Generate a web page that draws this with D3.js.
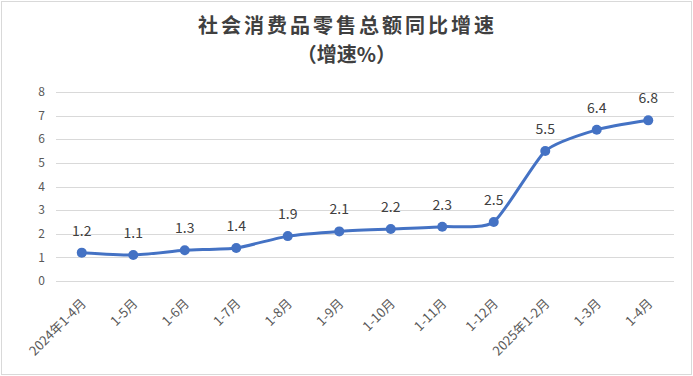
<!DOCTYPE html>
<html>
<head>
<meta charset="utf-8">
<script src="https://cdn.jsdelivr.net/npm/d3@7"></script>
<style>
  body { margin: 0; background: #fff; }
  svg { display: block; font-family: "Noto Sans CJK SC", "Noto Sans", sans-serif; }
</style>
</head>
<body>
<div id="chart"></div>
<script>
// periods and year-on-year growth (%)
const categories = ['2024年1-4月', '1-5月', '1-6月', '1-7月', '1-8月', '1-9月',
  '1-10月', '1-11月', '1-12月', '2025年1-2月', '1-3月', '1-4月']
const growth = [1.2, 1.1, 1.3, 1.4, 1.9, 2.1, 2.2, 2.3, 2.5, 5.5, 6.4, 6.8]
const yTicks = [0, 1, 2, 3, 4, 5, 6, 7, 8]

const width = 693
const height = 376
const margin = {top: 92, right: 19, bottom: 95, left: 56}

const svg = d3.select('#chart')
  .append('svg')
  .attr('width', width)
  .attr('height', height)

// outer frame
svg.append('rect')
  .attr('x', 1.5).attr('y', 1.5)
  .attr('width', width - 3).attr('height', height - 3)
  .attr('fill', '#fff')
  .attr('stroke', '#d9d9d9')

// title
svg.append('text')
  .attr('x', width / 2 + 1).attr('y', 33)
  .attr('text-anchor', 'middle')
  .attr('font-size', 20)
  .attr('font-weight', 'bold')
  .attr('letter-spacing', 3)
  .attr('fill', '#404040')
  .text('社会消费品零售总额同比增速')
svg.append('text')
  .attr('x', width / 2).attr('y', 62)
  .attr('text-anchor', 'middle')
  .attr('font-size', 20)
  .attr('font-weight', 'bold')
  .attr('fill', '#404040')
  .text('（增速%）')

const x = d3.scaleBand()
  .domain(categories)
  .range([margin.left, width - margin.right])

const y = d3.scaleLinear()
  .domain([0, 8])
  .range([height - margin.bottom, margin.top])

// gridlines
svg.append('g')
  .selectAll('line')
  .data(yTicks)
  .enter()
  .append('line')
  .attr('x1', margin.left)
  .attr('x2', width - margin.right)
  .attr('y1', d => Math.round(y(d)) + 0.5)
  .attr('y2', d => Math.round(y(d)) + 0.5)
  .attr('stroke', '#d9d9d9')

// y labels
svg.append('g')
  .selectAll('text')
  .data(yTicks)
  .enter()
  .append('text')
  .attr('x', 45)
  .attr('y', d => y(d))
  .attr('dy', '0.35em')
  .attr('text-anchor', 'end')
  .attr('font-size', 12)
  .attr('fill', '#595959')
  .text(d => d)

// x labels, rotated
const cx = d => x(d) + x.bandwidth() / 2
svg.append('g')
  .selectAll('text')
  .data(categories)
  .enter()
  .append('text')
  .attr('transform', d => `translate(${cx(d) + 2},${height - margin.bottom + 20}) rotate(-45)`)
  .attr('text-anchor', 'end')
  .attr('dy', '0.35em')
  .attr('font-size', 13)
  .attr('fill', '#595959')
  .text(d => d)

// line
const line = d3.line()
  .x((d, i) => cx(categories[i]))
  .y(d => y(d))
  .curve(d3.curveCardinal.tension(0.4))

svg.append('path')
  .datum(growth)
  .attr('d', line)
  .attr('fill', 'none')
  .attr('stroke', '#4472c4')
  .attr('stroke-width', 3)
  .attr('stroke-linejoin', 'round')

svg.append('g')
  .selectAll('circle')
  .data(growth)
  .enter()
  .append('circle')
  .attr('cx', (d, i) => cx(categories[i]))
  .attr('cy', d => y(d))
  .attr('r', 5)
  .attr('fill', '#4472c4')

// data labels
svg.append('g')
  .selectAll('text')
  .data(growth)
  .enter()
  .append('text')
  .attr('x', (d, i) => cx(categories[i]))
  .attr('y', d => y(d) - 17)
  .attr('text-anchor', 'middle')
  .attr('font-size', 14)
  .attr('fill', '#404040')
  .text(d => d.toFixed(1))
</script>
</body>
</html>
